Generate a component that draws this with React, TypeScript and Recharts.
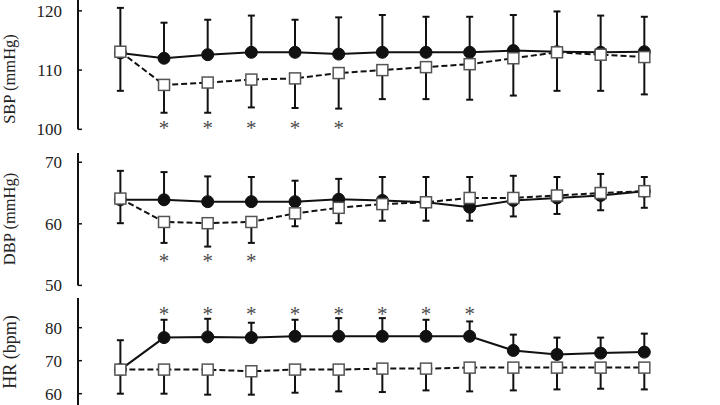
import { LineChart, Line, XAxis, YAxis, ErrorBar } from 'recharts'

// 13 measurement points, no x labels shown in the figure
const timePoints = [0, 1, 2, 3, 4, 5, 6, 7, 8, 9, 10, 11, 12]

// filled circles / solid line
const sbpFilled = [112.9, 112.0, 112.6, 113.0, 113.0, 112.7, 113.0, 113.0, 113.0, 113.3, 113.1, 113.0, 113.1]
const sbpFilledSd = [7.6, 6.0, 5.9, 6.2, 5.5, 6.2, 6.3, 6.0, 6.0, 6.0, 6.8, 6.2, 5.9]
// open squares / dashed line
const sbpOpen = [113.1, 107.5, 107.9, 108.4, 108.6, 109.5, 110.0, 110.5, 111.0, 112.0, 113.0, 112.6, 112.2]
const sbpOpenSd = [6.6, 4.7, 5.1, 4.7, 5.0, 6.0, 4.9, 5.4, 6.0, 6.3, 6.5, 6.1, 6.3]
const sbpSig = [false, true, true, true, true, true, false, false, false, false, false, false, false]

const dbpFilled = [63.9, 63.9, 63.6, 63.6, 63.6, 64.0, 63.8, 63.5, 62.7, 63.8, 64.2, 64.6, 65.3]
const dbpFilledSd = [4.7, 4.5, 4.1, 4.0, 3.4, 3.3, 3.8, 4.1, 4.9, 4.0, 3.4, 3.5, 2.3]
const dbpOpen = [64.1, 60.3, 60.1, 60.3, 61.7, 62.6, 63.2, 63.5, 64.2, 64.2, 64.6, 65.0, 65.3]
const dbpOpenSd = [4.0, 3.4, 3.8, 3.4, 2.1, 2.5, 2.7, 3.0, 3.7, 3.0, 3.0, 2.8, 2.7]
const dbpSig = [false, true, true, true, false, false, false, false, false, false, false, false, false]

const hrFilled = [67.3, 77.0, 77.2, 77.0, 77.4, 77.4, 77.4, 77.4, 77.4, 73.1, 71.9, 72.3, 72.6]
const hrFilledSd = [8.9, 5.4, 5.5, 4.5, 5.0, 5.5, 5.5, 5.0, 4.5, 4.8, 5.1, 4.7, 5.6]
const hrOpen = [67.3, 67.3, 67.3, 66.8, 67.3, 67.3, 67.6, 67.6, 67.9, 67.9, 67.9, 67.9, 67.9]
const hrOpenSd = [7.3, 7.3, 7.6, 7.1, 7.0, 6.6, 7.1, 6.6, 7.2, 6.9, 6.6, 6.4, 6.6]
const hrSig = [false, true, true, true, true, true, true, true, true, false, false, false, false]

const sbpTicks = [100, 110, 120]
const dbpTicks = [50, 60, 70]
const hrTicks = [60, 70, 80]

const FONT = '"Liberation Serif", "Times New Roman", serif'
const AXIS_W = 78
const TICK_GAP = 16
const MT = 6
const MB = 16

function buildRows(filled, filledSd, open, openSd, sig, starLevel) {
  return timePoints.map((t, i) => ({
    t,
    a: filled[i],
    aErr: [0, filledSd[i]],
    b: open[i],
    bErr: [openSd[i], 0],
    star: sig[i] ? starLevel : null,
  }))
}

const panels = [
  {
    key: 'sbp',
    label: 'SBP (mmHg)',
    labelY: 79,
    labelSize: 16.5,
    rows: buildRows(sbpFilled, sbpFilledSd, sbpOpen, sbpOpenSd, sbpSig, 100.76),
    domain: [100, 122],
    ticks: sbpTicks,
    top: -0.85,
    height: 130.35,
  },
  {
    key: 'dbp',
    label: 'DBP (mmHg)',
    labelY: 219,
    labelSize: 16.5,
    rows: buildRows(dbpFilled, dbpFilledSd, dbpOpen, dbpOpenSd, dbpSig, 54.6),
    domain: [50, 71.5],
    ticks: dbpTicks,
    top: 152.5,
    height: 132.4,
  },
  {
    key: 'hr',
    label: 'HR (bpm)',
    labelY: 352,
    labelSize: 18,
    rows: buildRows(hrFilled, hrFilledSd, hrOpen, hrOpenSd, hrSig, 85.3),
    domain: [50, 89],
    ticks: hrTicks,
    top: 297.6,
    height: 128.7,
  },
]

const AxisTick = (props) => {
  const { x, y, payload } = props
  return (
    <g>
      <line x1={x + TICK_GAP} x2={x + TICK_GAP + 4} y1={y} y2={y} stroke="#111" strokeWidth={1.5} />
      <text x={x} y={y} dy="0.35em" textAnchor="end" fontSize={17} fontFamily={FONT} fill="#222">
        {payload.value}
      </text>
    </g>
  )
}

const SquareDot = (props) => {
  const { cx, cy, index } = props
  if (cx == null || cy == null) return <g key={`sq-${index}`} />
  return (
    <rect key={`sq-${index}`} x={cx - 5.5} y={cy - 5.5} width={11} height={11} fill="#fff" stroke="#555" strokeWidth={1.5} />
  )
}

const StarDot = (props) => {
  const { cx, cy, index } = props
  if (cx == null || cy == null) return <g key={`st-${index}`} />
  return (
    <text key={`st-${index}`} x={cx} y={cy} dy={10.5} textAnchor="middle" fontSize={21} fontFamily={FONT} fill="#4a4a4a">
      *
    </text>
  )
}

export default function App() {
  return (
    <div style={{ position: 'absolute', left: 0, top: 0, width: 720, height: 405, overflow: 'hidden', background: '#fff' }}>
      {panels.map((p) => (
        <div key={p.key} style={{ position: 'absolute', left: 0, top: p.top - MT }}>
          <LineChart
            width={720}
            height={p.height + MT + MB}
            data={p.rows}
            margin={{ top: MT, right: 32, bottom: MB, left: 0 }}
          >
            <XAxis dataKey="t" type="number" domain={[-0.97, 13]} hide />
            <YAxis
              type="number"
              domain={p.domain}
              ticks={p.ticks}
              interval={0}
              width={AXIS_W}
              axisLine={{ stroke: '#111', strokeWidth: 2 }}
              tickLine={false}
              tickSize={0}
              tickMargin={TICK_GAP}
              tick={AxisTick}
            />
            <Line
              dataKey="a"
              stroke="#111"
              strokeWidth={2}
              dot={{ r: 6, fill: '#111', stroke: '#111', strokeWidth: 1 }}
              activeDot={false}
              isAnimationActive={false}
            >
              <ErrorBar dataKey="aErr" direction="y" width={3.5} stroke="#111" strokeWidth={2} />
            </Line>
            <Line
              dataKey="b"
              stroke="#111"
              strokeWidth={2}
              strokeDasharray="6 3"
              dot={SquareDot}
              activeDot={false}
              isAnimationActive={false}
            >
              <ErrorBar dataKey="bErr" direction="y" width={3.5} stroke="#111" strokeWidth={2} />
            </Line>
            <Line dataKey="star" stroke="none" dot={StarDot} activeDot={false} isAnimationActive={false} />
          </LineChart>
        </div>
      ))}
      {panels.map((p) => (
        <div
          key={`${p.key}-label`}
          style={{
            position: 'absolute',
            left: 10,
            top: p.labelY,
            transform: 'translate(-50%, -50%) rotate(-90deg)',
            whiteSpace: 'nowrap',
            fontFamily: FONT,
            fontSize: p.labelSize,
            color: '#222',
            lineHeight: 1,
          }}
        >
          {p.label}
        </div>
      ))}
    </div>
  )
}
